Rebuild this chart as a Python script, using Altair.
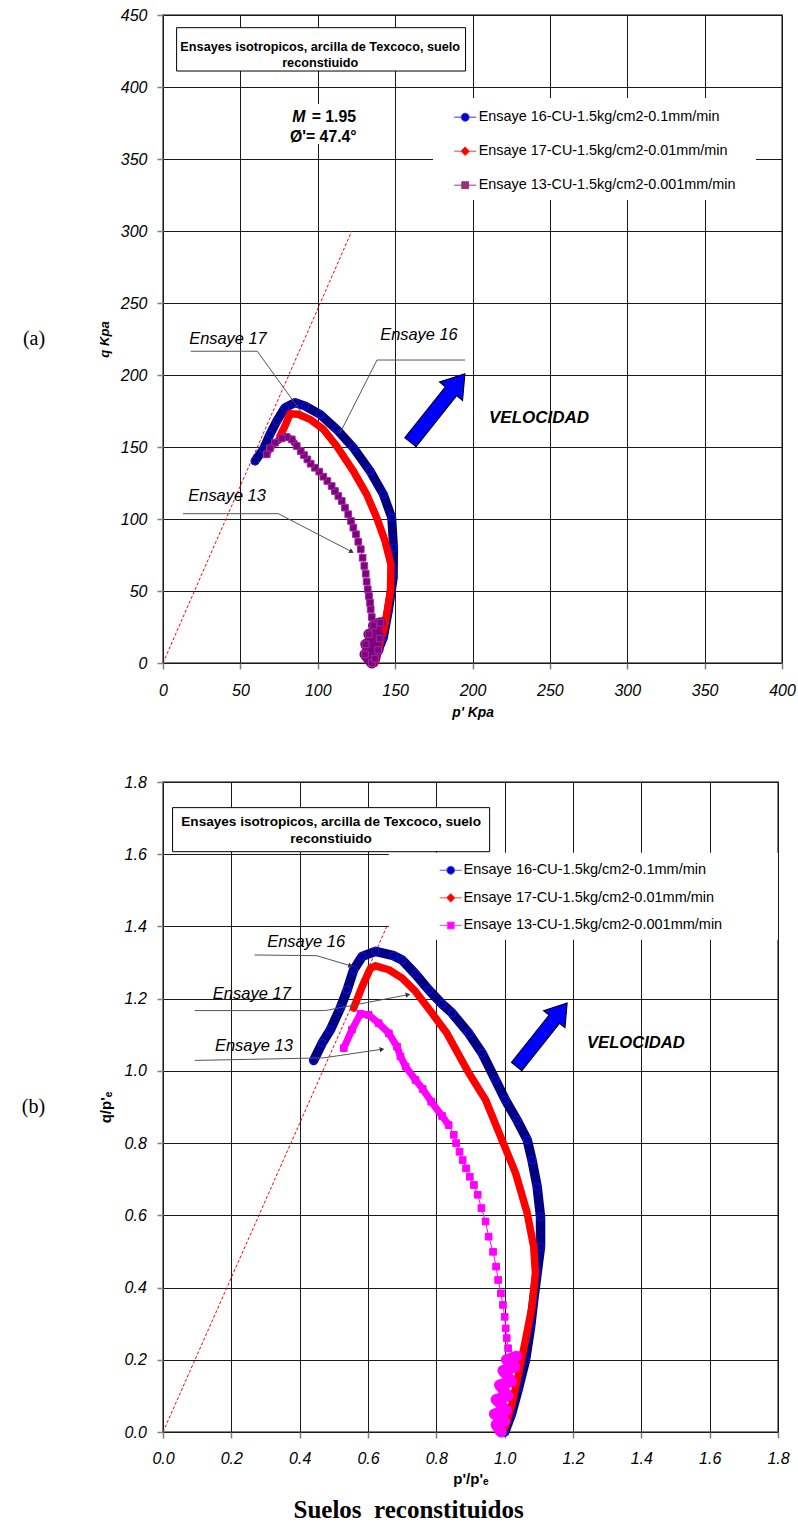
import altair as alt
import pandas as pd

SANS = "Liberation Sans"
SERIF = "Liberation Serif"

SERIES = ["Ensaye 16-CU-1.5kg/cm2-0.1mm/min",
          "Ensaye 17-CU-1.5kg/cm2-0.01mm/min",
          "Ensaye 13-CU-1.5kg/cm2-0.001mm/min"]

# ---------------- panel (a): p' [kPa] vs q [kPa] ----------------
A_XTICKS = [0, 50, 100, 150, 200, 250, 300, 350, 400]
A_YTICKS = [0, 50, 100, 150, 200, 250, 300, 350, 400, 450]

A16_P = [136, 138, 142.4, 145.6, 148.8, 149.0, 147.8, 142.4, 133.8, 123.0, 112.2, 101.5, 91.8, 85.3, 78.8, 73.5, 69.1, 64.8, 59.5]
A16_Q = [0, 6, 17.6, 36.1, 59.2, 80.0, 100.9, 117.1, 133.3, 149.5, 162.3, 172.7, 178.5, 180.8, 177.3, 168.0, 158.8, 148.4, 140.3]

A17_P = [137.0, 139.1, 143.5, 147.0, 147.3, 143.5, 138.1, 131.6, 123.0, 112.2, 103.6, 95.0, 87.4, 82.1, 78.8, 75.6]
A17_Q = [0, 8.3, 26.9, 50.0, 68.5, 84.7, 100.9, 117.1, 133.3, 150.7, 162.3, 169.2, 172.7, 173.1, 164.6, 157.6]

A13_BLOB_P = [135, 130.5, 137, 131, 139, 133, 140, 136, 140.5]
A13_BLOB_Q = [0, 6, 3, 13, 9, 20, 17, 26, 28]
A13_MID_P = [134.9, 134.2, 133.8, 133.1, 132.3, 131.6, 131.0, 130.1, 129.0, 127.8, 126.2, 124.7, 123.0, 121.5,
             119.7, 117.6, 115.5, 113.3, 111.1, 109.0, 106.2, 103.6, 101.0, 98.2, 95.4, 93.3, 91.1, 89.0]
A13_MID_Q = [31.9, 37.3, 41.9, 46.5, 51.2, 56.5, 62.0, 67.4, 73.1, 79.0, 84.2, 89.4, 94.0, 98.6,
             103.3, 107.9, 112.5, 116.0, 119.4, 122.9, 126.4, 129.4, 132.9, 135.6, 138.4, 141.4, 144.4, 147.2]
A13_TOP_P = [86.4, 83.2, 79.9, 76.7, 72.4, 69.1, 67.0]
A13_TOP_Q = [150.7, 155.3, 156.9, 156.0, 153.0, 149.1, 144.9]

A_CSL_P = [0, 122]
A_CSL_Q = [0, 300]

# ---------------- panel (b): p'/p'e vs q/p'e ----------------
B_XTICKS = [0.0, 0.2, 0.4, 0.6, 0.8, 1.0, 1.2, 1.4, 1.6, 1.8]
B_YTICKS = [0.0, 0.2, 0.4, 0.6, 0.8, 1.0, 1.2, 1.4, 1.6, 1.8]

B16_P = [1.000, 1.020, 1.040, 1.061, 1.076, 1.085, 1.095, 1.105, 1.105, 1.095, 1.080, 1.066, 1.036, 1.002, 0.973,
         0.934, 0.895, 0.846, 0.817, 0.778, 0.739, 0.700, 0.675, 0.622, 0.583, 0.558, 0.539, 0.519, 0.490, 0.466, 0.441]
B16_Q = [0.000, 0.050, 0.120, 0.199, 0.292, 0.366, 0.440, 0.513, 0.596, 0.680, 0.753, 0.809, 0.864, 0.920, 0.975,
         1.049, 1.104, 1.160, 1.185, 1.224, 1.268, 1.307, 1.319, 1.331, 1.317, 1.280, 1.224, 1.174, 1.114, 1.077, 1.029]

B17_P = [0.983, 1.002, 1.022, 1.041, 1.061, 1.080, 1.090, 1.085, 1.066, 1.032, 0.992, 0.944, 0.895, 0.831, 0.787,
         0.739, 0.700, 0.661, 0.622, 0.607, 0.583, 0.558]
B17_Q = [0.000, 0.015, 0.080, 0.163, 0.255, 0.347, 0.440, 0.513, 0.606, 0.717, 0.809, 0.920, 0.994, 1.104, 1.160,
         1.220, 1.257, 1.280, 1.291, 1.284, 1.234, 1.174]

B13_BLOB_P = [0.990, 0.975, 1.000, 0.970, 1.005, 0.975, 1.010, 0.985, 1.020, 0.995, 1.030, 1.005, 1.035]
B13_BLOB_Q = [0.000, 0.020, 0.030, 0.050, 0.060, 0.090, 0.100, 0.130, 0.140, 0.170, 0.180, 0.200, 0.210]
B13_MID_P = [1.010, 1.006, 1.003, 1.000, 0.995, 0.989, 0.981, 0.975, 0.966, 0.953, 0.944, 0.932, 0.921, 0.910,
             0.898, 0.887, 0.877, 0.868, 0.858, 0.851]
B13_MID_Q = [0.232, 0.260, 0.287, 0.319, 0.352, 0.384, 0.421, 0.458, 0.499, 0.541, 0.583, 0.620, 0.657, 0.684,
             0.707, 0.730, 0.753, 0.776, 0.800, 0.823]
B13_TOP_P = [0.836, 0.817, 0.785, 0.760, 0.739, 0.710, 0.695, 0.685, 0.661, 0.631, 0.602, 0.578, 0.553, 0.529]
B13_TOP_Q = [0.850, 0.875, 0.915, 0.950, 0.975, 1.012, 1.040, 1.067, 1.104, 1.132, 1.155, 1.158, 1.114, 1.063]

B_CSL_P = [0, 0.655]
B_CSL_Q = [0, 1.40]

M_TEXT = "= 1.95"
PHI_TEXT = "Ø'= 47.4°"
BOX_LINES = ["Ensayes isotropicos, arcilla de Texcoco, suelo", "reconstiuido"]

# ---------------- annotation placements (data units) ----------------
A_ANN = dict(
    box=(8.8, 195.5, 411.1, 441.2), box_text=(101.6, [428.0, 416.9]),
    leg_bg=(174.5, 383.2, 321.5, 392.4), m_bg=(80.1, 126.6, 360.4, 388.2),
    m=(87.7, 96.1, 379.2), phi=(103.6, 365.3),
    vel=(243, 170.1), arrow=(177.5, 177.1),
    labels=[("Ensaye 17", 42, 225), ("Ensaye 16", 165.4, 227.8), ("Ensaye 13", 41.4, 116)],
    leaders=[[(17.9, 216.5), (60.9, 216.5), (89.8, 173.6)],
             [(195.2, 210.4), (138.3, 210.4), (114.4, 159.7)],
             [(12.9, 103.7), (74.5, 103.7), (121.9, 77.3)]],
    heads=[(121.9, 77.3, 117.4)],
)
B_ANN = dict(
    box=(0.028, 0.956, 1.607, 1.729), box_text=(0.492, [1.689, 1.642]),
    leg_bg=(0.661, 1.8, 1.363, 1.604),
    vel=(1.384, 1.078), arrow=(1.109, 1.100),
    labels=[("Ensaye 16", 0.419, 1.358), ("Ensaye 17", 0.26, 1.213), ("Ensaye 13", 0.266, 1.07)],
    leaders=[[(0.268, 1.321), (0.450, 1.319), (0.549, 1.291)],
             [(0.093, 1.167), (0.475, 1.167), (0.717, 1.211)],
             [(0.093, 1.029), (0.470, 1.036), (0.641, 1.060)]],
    heads=[(0.549, 1.291, 106.4), (0.717, 1.211, 79.2), (0.641, 1.060, 81.5)],
)

ARROW = "M0,-2.19L0.74,-1.07L0.36,-1.07L0.36,2.19L-0.36,2.19L-0.36,-1.07L-0.74,-1.07Z"
LEG_CIRCLE = "M-3.67,0L-1.33,0M1.33,0L3.67,0M-1.33,0A1.33,1.33,0,1,0,1.33,0A1.33,1.33,0,1,0,-1.33,0Z"
LEG_DIAMOND = "M-3.67,0L-1.45,0M1.45,0L3.67,0M0,-1.45L1.45,0L0,1.45L-1.45,0Z"
LEG_SQUARE = "M-3.67,0L-1.15,0M1.15,0L3.67,0M-1.15,-1.15L1.15,-1.15L1.15,1.15L-1.15,1.15Z"


def seg_df(segments):
    rows, i = [], 0
    for k, (ps, qs) in enumerate(segments):
        for a, b in zip(ps, qs):
            rows.append({"p": a, "q": b, "i": i, "seg": k})
            i += 1
    return pd.DataFrame(rows)


def make_xy(xdom, ydom, xticks, yticks, fmt, xtitle, ytitle, italic, xts, yts, xlp, xtp, ylp, ytp):
    common = dict(labelFont=SANS, labelFontStyle="italic", labelFontSize=16, labelColor="black",
                  tickSize=6, tickColor="#808080", tickWidth=1.5, domain=False,
                  gridColor="#1a1a1a", gridWidth=1, titleFont=SANS, titleFontWeight="bold",
                  titleFontStyle="italic" if italic else "normal", titleColor="black")
    X = alt.X("p:Q", scale=alt.Scale(domain=xdom, nice=False, zero=False),
              axis=alt.Axis(values=xticks, format=fmt, title=xtitle, labelFlush=False,
                            labelPadding=xlp, titlePadding=xtp, titleFontSize=xts, **common))
    Y = alt.Y("q:Q", scale=alt.Scale(domain=ydom, nice=False, zero=False),
              axis=alt.Axis(values=yticks, format=fmt, title=ytitle,
                            labelPadding=ylp, titlePadding=ytp, titleFontSize=yts, **common))
    return X, Y


def rect_layer(X, Y, box, fill, stroke=None):
    df = pd.DataFrame([{"p": box[0], "p2": box[1], "q": box[2], "q2": box[3]}])
    kw = dict(fill=fill)
    if stroke:
        kw.update(stroke=stroke, strokeWidth=1)
    else:
        kw.update(strokeWidth=0)
    return alt.Chart(df).mark_rect(**kw).encode(x=X, x2="p2:Q", y=Y, y2="q2:Q")


def text_layer(X, Y, rows, size, weight="normal", style="normal", align="center"):
    df = pd.DataFrame([{"p": a, "q": b, "t": t} for t, a, b in rows])
    return alt.Chart(df).mark_text(font=SANS, fontSize=size, fontWeight=weight, fontStyle=style,
                                   align=align, baseline="middle", color="black").encode(
        x=X, y=Y, text="t:N")


def series_layers(df, X, Y, band_color, band_w, shape, size, fill, stroke, band_segs=None, thin=None,
                  blob_w=None):
    out = []
    band = alt.Chart(df)
    if band_segs is not None:
        band = band.transform_filter(alt.FieldOneOfPredicate(field="seg", oneOf=band_segs))
    out.append(band.mark_line(color=band_color, strokeWidth=band_w, strokeJoin="round", strokeCap="round")
               .encode(x=X, y=Y, detail="seg:N", order="i:Q"))
    if blob_w:
        out.append(alt.Chart(df).transform_filter(alt.datum.seg == 0)
                   .mark_line(color=band_color, strokeWidth=blob_w, strokeJoin="round", strokeCap="round")
                   .encode(x=X, y=Y, order="i:Q"))
    if thin:
        out.append(alt.Chart(df).mark_line(color=thin, strokeWidth=1).encode(x=X, y=Y, order="i:Q"))
    out.append(alt.Chart(df).mark_point(shape=shape, size=size, filled=True, fill=fill, stroke=stroke,
                                        strokeWidth=1, opacity=1).encode(x=X, y=Y))
    return out


def legend_layer(X, Y, firsts, fills, strokes, lx, ly, rowpad, fs, loff):
    df = pd.DataFrame([{"p": a, "q": b, "s": s} for s, (a, b) in zip(SERIES, firsts)])
    leg = alt.Legend(title=None, orient="none", legendX=lx, legendY=ly, padding=0,
                     labelFont=SANS, labelFontSize=fs, labelColor="black", labelLimit=500,
                     symbolSize=36, symbolStrokeWidth=1, symbolOpacity=1,
                     rowPadding=rowpad, labelOffset=loff)
    return alt.Chart(df).mark_point(opacity=0).encode(
        x=X, y=Y,
        fill=alt.Fill("s:N", scale=alt.Scale(domain=SERIES, range=fills), legend=leg),
        stroke=alt.Stroke("s:N", scale=alt.Scale(domain=SERIES, range=strokes), legend=leg),
        shape=alt.Shape("s:N", scale=alt.Scale(domain=SERIES, range=[LEG_CIRCLE, LEG_DIAMOND, LEG_SQUARE]),
                        legend=leg))


def annotation_layers(X, Y, ann, box_fs, vel_fs, lab_fs, arrow_size):
    out = []
    out.append(rect_layer(X, Y, ann["leg_bg"], "white"))
    if "m_bg" in ann:
        out.append(rect_layer(X, Y, ann["m_bg"], "white"))
    out.append(rect_layer(X, Y, ann["box"], "white", "black"))
    bp, bqs = ann["box_text"]
    out.append(text_layer(X, Y, [(BOX_LINES[0], bp, bqs[0]), (BOX_LINES[1], bp, bqs[1])], box_fs, "bold"))
    if "m" in ann:
        mp, ep, mq = ann["m"]
        out.append(text_layer(X, Y, [("M", mp, mq)], 15.8, "bold", "italic"))
        out.append(text_layer(X, Y, [(M_TEXT, ep, mq)], 15.8, "bold", align="left"))
        out.append(text_layer(X, Y, [(PHI_TEXT, ann["phi"][0], ann["phi"][1])], 15.8, "bold"))
    out.append(text_layer(X, Y, [("VELOCIDAD", ann["vel"][0], ann["vel"][1])], vel_fs, "bold", "italic"))
    out.append(text_layer(X, Y, ann["labels"], lab_fs, "normal", "italic"))
    lrows = []
    for k, pts in enumerate(ann["leaders"]):
        for j, (a, b) in enumerate(pts):
            lrows.append({"p": a, "q": b, "id": k, "i": j})
    out.append(alt.Chart(pd.DataFrame(lrows)).mark_line(color="#555555", strokeWidth=1)
               .encode(x=X, y=Y, detail="id:N", order="i:Q"))
    hd = pd.DataFrame([{"p": a, "q": b, "a": g} for a, b, g in ann["heads"]])
    out.append(alt.Chart(hd).mark_point(shape="triangle-up", filled=True, size=28, color="#333333", opacity=1)
               .encode(x=X, y=Y, angle=alt.Angle("a:Q", scale=None)))
    ad = pd.DataFrame([{"p": ann["arrow"][0], "q": ann["arrow"][1]}])
    out.append(alt.Chart(ad).mark_point(shape=ARROW, size=arrow_size, angle=38.5, filled=True,
                                        fill="#0000FF", stroke="black", strokeWidth=1, opacity=1)
               .encode(x=X, y=Y))
    return out


# ---------------- build panel (a) ----------------
XA, YA = make_xy([0, 400], [0, 450], A_XTICKS, A_YTICKS, "d", "p' Kpa", "q Kpa", True,
                 13.8, 13.2, 13, 7, 10, 9)
a16 = seg_df([(A16_P, A16_Q)])
a17 = seg_df([(A17_P, A17_Q)])
a13 = seg_df([(A13_BLOB_P, A13_BLOB_Q), (A13_MID_P, A13_MID_Q), (A13_TOP_P, A13_TOP_Q)])
acsl = pd.DataFrame({"p": A_CSL_P, "q": A_CSL_Q})

ann_a = annotation_layers(XA, YA, A_ANN, 12.7, 17, 16.4, 1600)
layers_a = ann_a[:4]
layers_a.append(alt.Chart(acsl).mark_line(color="red", strokeWidth=1, strokeDash=[3, 2]).encode(x=XA, y=YA))
layers_a += series_layers(a16, XA, YA, "#000080", 9, "circle", 60, "#000080", "#1010FF")
layers_a += series_layers(a17, XA, YA, "#FF0000", 7.5, "diamond", 35, "#FF0000", "#FF0000")
layers_a += series_layers(a13, XA, YA, "#800080", 7, "square", 45, "#800080", "#993399", band_segs=[0, 2],
                          thin="#800080", blob_w=11)
layers_a.append(legend_layer(XA, YA, [(A16_P[0], A16_Q[0]), (A17_P[0], A17_Q[0]), (A13_BLOB_P[0], A13_BLOB_Q[0])],
                             ["#0000CC", "#FF0000", "#993366"], ["#3333FF", "#FF3333", "#993399"],
                             295, 95, 19, 14.4, 6.3))
layers_a += ann_a[4:]

panel_a = alt.layer(*layers_a).properties(
    width=619, height=648,
    title=alt.TitleParams("(a)", orient="left", angle=0, anchor="middle", align="right", baseline="middle",
                          font=SERIF, fontSize=20, fontWeight="normal", color="black", offset=30))

# ---------------- build panel (b) ----------------
XB, YB = make_xy([0, 1.8], [0, 1.8], B_XTICKS, B_YTICKS, ".1f", "p'/p'ₑ", "q/p'ₑ", False,
                 15, 15, 12, 5.5, 10.7, 10.6)
b16 = seg_df([(B16_P, B16_Q)])
b17 = seg_df([(B17_P, B17_Q)])
b13 = seg_df([(B13_BLOB_P, B13_BLOB_Q), (B13_MID_P, B13_MID_Q), (B13_TOP_P, B13_TOP_Q)])
bcsl = pd.DataFrame({"p": B_CSL_P, "q": B_CSL_Q})

ann_b = annotation_layers(XB, YB, B_ANN, 13.6, 16.6, 16.5, 1375)
layers_b = ann_b[:3]
layers_b.append(alt.Chart(bcsl).mark_line(color="red", strokeWidth=1, strokeDash=[3, 2]).encode(x=XB, y=YB))
layers_b += series_layers(b16, XB, YB, "#000080", 9.5, "circle", 60, "#000080", "#1010FF")
layers_b += series_layers(b17, XB, YB, "#FF0000", 7.5, "diamond", 35, "#FF0000", "#FF0000")
layers_b += series_layers(b13, XB, YB, "#FF00FF", 7, "square", 45, "#FF00FF", "#FF00FF", band_segs=[0, 2],
                          thin="#FF00FF", blob_w=11)
layers_b.append(legend_layer(XB, YB, [(B16_P[0], B16_Q[0]), (B17_P[0], B17_Q[0]), (B13_BLOB_P[0], B13_BLOB_Q[0])],
                             ["#0000CC", "#FF0000", "#FF00FF"], ["#5555FF", "#FF4444", "#FF44FF"],
                             280.5, 81, 12.6, 14.5, 5.5))
layers_b += ann_b[3:]

panel_b = alt.layer(*layers_b).properties(
    width=615, height=650,
    title=alt.TitleParams("(b)", orient="left", angle=0, anchor="middle", align="right", baseline="middle",
                          font=SERIF, fontSize=20, fontWeight="normal", color="black", offset=30))

chart = alt.vconcat(panel_a, panel_b, spacing=53).properties(
    title=alt.TitleParams("Suelos\u00a0\u00a0reconstituidos", orient="bottom", anchor="middle", font=SERIF,
                          fontSize=25, fontWeight="bold", color="black", offset=10),
    padding={"left": 20, "top": 6, "right": 0, "bottom": 4},
    background="white",
).resolve_scale(
    fill="independent", stroke="independent", shape="independent"
).resolve_legend(
    fill="independent", stroke="independent", shape="independent"
).configure_view(stroke="#808080", strokeWidth=2)

chart.save("out.html", embed_options={"renderer": "svg", "actions": False})
